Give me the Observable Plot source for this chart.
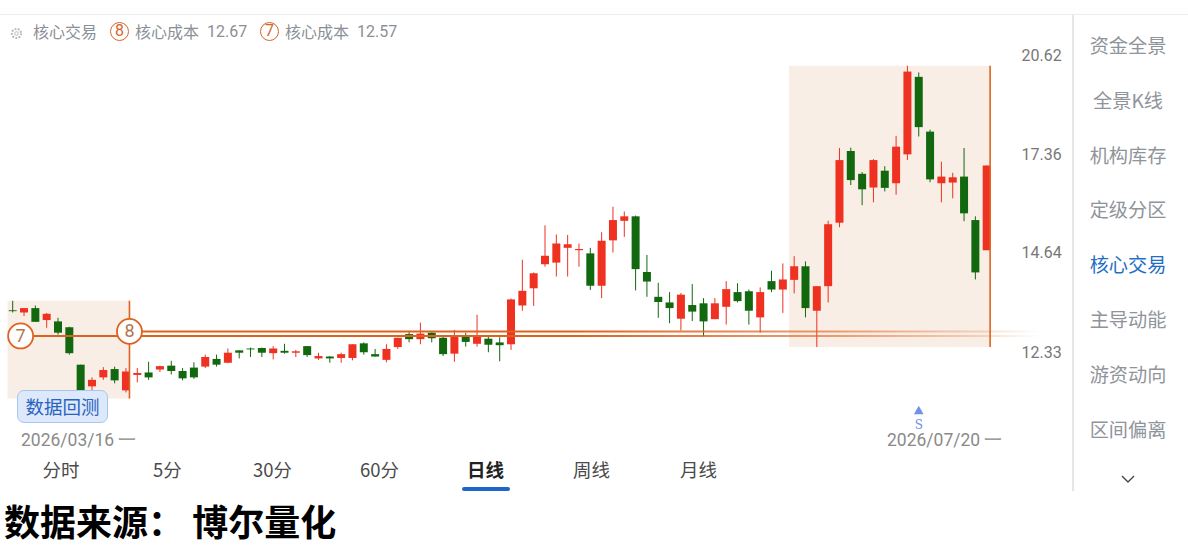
<!DOCTYPE html>
<html lang="zh">
<head>
<meta charset="utf-8">
<script src="https://cdn.jsdelivr.net/npm/d3@7"></script>
<script src="https://cdn.jsdelivr.net/npm/@observablehq/plot@0.6"></script>
<style>
html,body{margin:0;padding:0;background:#fff;width:1188px;height:560px;overflow:hidden;}
body{font-family:"Noto Sans CJK SC","Noto Sans",sans-serif;position:relative;}
#chart{position:absolute;left:0;top:0;}
#chart svg{display:block;}
.abs{position:absolute;white-space:nowrap;line-height:1;}
.leg{color:#8b8f96;font-size:16px;top:23px;}
.num{font-family:Roboto,sans-serif;font-size:16px;color:#8b8f96;top:23.5px;}
.circ{box-sizing:border-box;width:19px;height:19px;border:1.5px solid #d5672c;border-radius:50%;color:#d5672c;font:16px/16.5px Roboto,sans-serif;text-align:center;top:22px;}
.side{left:1072px;width:112px;text-align:center;font-size:19.2px;color:#8f949b;}
.tab{font-size:18.5px;color:#4a4a4a;top:460px;}
.date{font-family:Roboto,sans-serif;font-size:17.5px;color:#8a8a8a;top:432px;}
</style>
</head>
<body>
<div id="chart"></div>
<script>
// 87 daily sessions, 2026/03/16 to 2026/07/20
const opens = [
13.13,13.08,13.18,12.91,12.88,12.75,11.95,11.51,11.69,11.86,11.43,11.74,11.79,11.85,11.93,11.82,11.89,11.91,12.07,11.99,
12.25,12.29,12.30,12.19,12.24,12.20,12.34,12.08,12.12,12.09,
12.09,12.40,12.17,12.05,12.32,12.60,12.49,12.63,12.52,12.18,
12.55,12.39,12.50,12.42,12.38,13.24,13.64,14.22,14.26,14.63,
14.57,14.49,13.70,14.82,15.33,15.45,14.03,13.44,13.31,12.94,
13.25,13.29,12.93,13.21,13.55,13.57,12.97,13.81,13.61,13.84,
14.17,13.12,13.69,15.28,17.30,16.63,16.24,16.72,16.36,17.20,
19.67,17.89,16.36,16.38,16.55,15.35,14.57];
const closes = [
13.11,13.18,12.87,13.05,12.63,12.19,11.33,11.64,11.84,11.63,11.81,11.78,11.69,11.92,11.82,11.67,11.69,12.11,11.95,12.20,
12.20,12.27,12.20,12.29,12.20,12.23,12.15,12.13,12.08,12.17,
12.38,12.21,12.12,12.28,12.52,12.49,12.61,12.51,12.17,12.55,
12.43,12.55,12.37,12.36,13.38,13.58,14.00,14.43,14.74,14.72,
14.60,13.70,14.81,15.35,15.45,14.10,13.80,13.32,13.18,13.49,
13.10,12.88,13.29,13.62,13.34,13.12,13.55,13.61,13.85,14.17,
13.18,13.69,15.24,17.03,16.45,16.19,17.03,16.23,17.43,19.85,
18.03,16.47,16.55,16.53,15.53,14.02,16.87];
const highs = [
13.35,13.18,13.24,13.07,12.96,12.76,11.95,11.69,11.90,11.91,11.88,11.88,12.01,11.93,12.03,11.88,12.00,12.16,12.16,12.29,
12.25,12.31,12.31,12.34,12.39,12.26,12.34,12.20,12.13,12.20,
12.38,12.42,12.28,12.38,12.52,12.66,12.85,12.64,12.55,12.69,
12.63,13.03,12.55,12.53,13.40,14.33,14.02,15.21,14.97,14.96,
14.74,14.63,15.03,15.71,15.58,15.47,14.45,13.77,13.55,13.53,
13.74,13.41,13.41,13.81,13.76,13.61,13.66,14.06,14.24,14.42,
14.29,13.69,15.33,17.39,17.40,16.68,17.06,16.85,17.76,20.05,
19.82,17.95,16.98,16.66,17.39,15.45,16.87];
const lows = [
13.08,13.00,12.87,12.74,12.59,12.16,11.27,11.39,11.64,11.57,11.39,11.59,11.64,11.80,11.75,11.63,11.66,11.88,11.91,11.98,
12.08,12.11,12.11,12.06,12.18,12.11,12.11,12.05,11.99,11.99,
12.04,12.16,12.12,12.00,12.28,12.42,12.38,12.42,12.13,12.01,
12.33,12.33,12.21,12.02,12.26,13.12,13.23,14.16,13.92,13.92,
14.16,13.60,13.41,14.51,14.91,13.59,13.44,12.96,12.84,12.68,
12.89,12.55,12.93,12.81,13.31,12.81,12.63,13.55,13.07,13.52,
12.97,12.32,13.31,15.16,16.31,15.75,15.83,16.13,16.04,17.03,
17.74,16.39,15.83,15.94,15.32,13.85,14.57];
const priceTicks = [12.33,14.64,17.36,20.62];
const coreCosts = [{n:"7",cost:12.57,from:0.7},{n:"8",cost:12.67,from:10.31}];
const zones = [
  {x1:-0.41,x2:10.31,top:13.35,bottom:11.27},
  {x1:68.6,x2:86.3,top:20.05,bottom:12.32}
];
const sellSignal = [{i:80,markPrice:11.03,labelPrice:10.77,label:"S"}];
const sideItems = ["资金全景","全景K线","机构库存","定级分区","核心交易","主导动能","游资动向","区间偏离"];
const tabs = [["分时",42.5],["5分",153],["30分",253],["60分",360],["日线",467],["周线",573],["月线",680]];

const candles = opens.map((o,i)=>({i,open:o,close:closes[i],high:highs[i],low:lows[i]}));
const up = candles.filter(d=>d.close>=d.open), down = candles.filter(d=>d.close<d.open);
const RED="#ee3120", GREEN="#12680f", ORANGE="#de621f", ZONE="#f9eee5";

const candleMarks = (data,color)=>[
  Plot.ruleX(data,{x:"i",y1:"high",y2:"low",stroke:color,strokeWidth:1}),
  Plot.ruleX(data,{x:"i",y1:"open",y2:"close",stroke:color,strokeWidth:8})
];

const chart = Plot.plot({
  width:1188,height:495,
  marginLeft:0,marginTop:0,marginBottom:0,marginRight:170,
  style:{background:"transparent",fontFamily:"Roboto,sans-serif",fontSize:"16px"},
  x:{domain:[0,86],range:[12.2,986.2],axis:null},
  y:{type:"log",domain:[12.33,20.62],range:[346.6,49.6],axis:null},
  marks:[
    Plot.rect(zones,{x1:"x1",x2:"x2",y1:"bottom",y2:"top",fill:ZONE}),
    ...candleMarks(up,RED),
    ...candleMarks(down,GREEN),
    Plot.ruleY(coreCosts,{y:"cost",x1:"from",x2:()=>90.7,stroke:"url(#costFade)",strokeWidth:2}),
    Plot.ruleX(zones,{x:"x2",y1:"bottom",y2:"top",stroke:ORANGE,strokeWidth:1.6}),
    Plot.dot(coreCosts,{x:"from",y:"cost",r:12.5,fill:"#fff",stroke:ORANGE,strokeWidth:1.8}),
    Plot.text(coreCosts,{x:"from",y:"cost",text:"n",fill:"#b5744e",fontSize:18,fontFamily:"Roboto,sans-serif"}),
    Plot.dot(sellSignal,{x:"i",y:"markPrice",symbol:"triangle",r:3.6,fill:"#7191e8"}),
    Plot.text(sellSignal,{x:"i",y:"labelPrice",text:"label",fill:"#6f8ee6",fontSize:12,fontFamily:'"DejaVu Serif",serif'}),
    Plot.axisY(priceTicks,{anchor:"right",tickSize:0,tickPadding:3,label:null,dy:5.4,
      tickFormat:d=>d.toFixed(2),fill:"#777",fontSize:16})
  ]
});
chart.insertAdjacentHTML("afterbegin",
 `<defs><linearGradient id="costFade" gradientUnits="userSpaceOnUse" x1="0" x2="1040" y1="0" y2="0">
  <stop offset="0.55" stop-color="${ORANGE}" stop-opacity="1"/>
  <stop offset="0.8" stop-color="${ORANGE}" stop-opacity="0.6"/>
  <stop offset="0.95" stop-color="${ORANGE}" stop-opacity="0.2"/>
  <stop offset="1" stop-color="${ORANGE}" stop-opacity="0"/>
 </linearGradient></defs>`);
document.getElementById("chart").append(chart);

function add(cls,style,text,html){
  const e=document.createElement("div");
  e.className="abs "+cls; e.style.cssText=style;
  if(html) e.innerHTML=html; else e.textContent=text;
  document.body.append(e); return e;
}
// frame lines
add("","left:0;top:14px;width:1188px;height:1px;background:#e9eded","");
add("","left:1072px;top:15px;width:1.5px;height:476px;background:#e5e5e5","");
// legend row
add("","left:10px;top:25px;width:13px;height:13px","",
 `<svg width="13" height="13" viewBox="0 0 13 13"><circle cx="6.5" cy="6.5" r="4.6" fill="none" stroke="#b8b8b8" stroke-width="2" stroke-dasharray="1.8 1.4"/><circle cx="6.5" cy="6.5" r="1.8" fill="none" stroke="#b8b8b8"/></svg>`);
add("leg","left:33px","核心交易");
add("circ","left:110px","8");
add("leg","left:135px","核心成本");
add("num","left:207px","12.67");
add("circ","left:260px","7");
add("leg","left:285px","核心成本");
add("num","left:357px","12.57");
// sidebar
sideItems.forEach((t,k)=>add("side",`top:${36+k*54.8}px;`+(t==="核心交易"?"color:#1f6fc4":""),t));
add("","left:1120px;top:469px;width:16px;height:10px","",
 `<svg width="16" height="10"><path d="M2 2 L8 8 L14 2" fill="none" stroke="#444" stroke-width="1.4"/></svg>`);
// button
add("","left:17px;top:390px;width:91px;height:33px;box-sizing:border-box;background:#dde9fa;border:1.5px solid #a6c6ef;border-radius:7px;color:#2a62c0;font-size:18.5px;line-height:30px;text-align:center","数据回测");
// dates
add("date","left:21px","2026/03/16 一");
add("date","left:887px","2026/07/20 一");
// tabs
tabs.forEach(([t,x])=>add("tab",`left:${x}px;`+(t==="日线"?"font-weight:700;color:#222":""),t));
add("","left:462px;top:487px;width:48px;height:4px;background:#1f66cc;border-radius:2px","");
// source line
add("","left:4px;top:502px;font-size:36px;font-weight:700;color:#000;letter-spacing:0","数据来源： 博尔量化");
</script>
</body>
</html>
